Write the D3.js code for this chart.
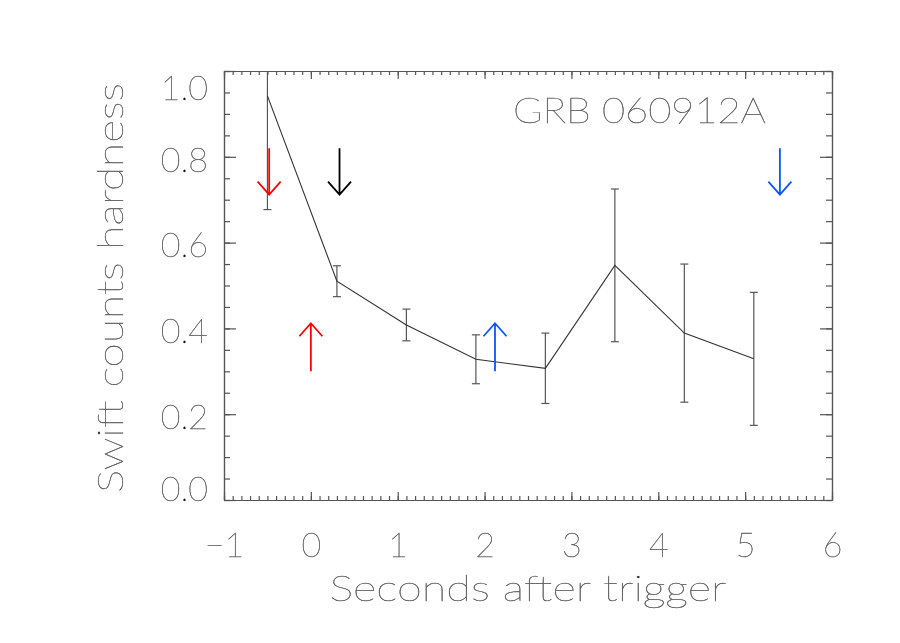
<!DOCTYPE html>
<html>
<head>
<meta charset="utf-8">
<script src="https://cdn.jsdelivr.net/npm/d3@7"></script>
<style>
  html, body { margin: 0; padding: 0; background: #fff; }
  svg { will-change: transform; }
  svg text { font-family: "Lato", "DejaVu Sans", sans-serif; font-weight: 100; fill: #000; stroke: #666; stroke-width: 0.35; }
</style>
</head>
<body>
<div id="chart"></div>
<script>
// ---- data ----
const times = [-0.5, 0.3, 1.1, 1.9, 2.7, 3.5, 4.3, 5.1];
const hardness = [0.942, 0.51, 0.408, 0.328, 0.307, 0.547, 0.389, 0.329];
const hardnessErr = [0.265, 0.036, 0.037, 0.057, 0.082, 0.178, 0.161, 0.155];
const arrowX = [-0.48, 0.33, 0.0, 2.12, 5.4];
const arrowFrom = [0.82, 0.82, 0.30, 0.30, 0.82];
const arrowTo = [0.712, 0.712, 0.412, 0.412, 0.712];
const arrowColors = ["#ff0000", "#000000", "#ff0000", "#0a55ff", "#0a55ff"];
const xTickValues = [-1, 0, 1, 2, 3, 4, 5, 6];
const xTickLabels = ["\u22121", "0", "1", "2", "3", "4", "5", "6"];
const yTickValues = [0, 0.2, 0.4, 0.6, 0.8, 1.0];
const yTickLabels = ["0.0", "0.2", "0.4", "0.6", "0.8", "1.0"];
const xTitle = "Seconds after trigger";
const yTitle = "Swift counts hardness";
const plotTitle = "GRB 060912A";

// ---- layout ----
const W = 900, H = 643;
const L = 224, R = 832, T = 71, B = 500;

const svg = d3.select("#chart").append("svg").attr("width", W).attr("height", H);

const x = d3.scaleLinear().domain([-1, 6]).range([L, R]);
const y = d3.scaleLinear().domain([0, 1.0]).range([B, T]);

const axisColor = "#555";

// minor ticks
const xMinor = d3.range(-10, 61).map(d => d / 10);
const yMinor = d3.range(0, 21).map(d => d / 20);

function styleAxis(g) {
  g.select(".domain").attr("stroke", axisColor).attr("stroke-width", 1.2);
  g.selectAll(".tick line").attr("stroke", axisColor).attr("stroke-width", 1.2);
}

// bottom axis (ticks inward)
const gxB = svg.append("g").attr("transform", `translate(0,${B})`);
gxB.call(d3.axisBottom(x).tickValues(xMinor).tickSize(-4).tickFormat("").tickSizeOuter(0));
styleAxis(gxB);
const gxBM = svg.append("g").attr("transform", `translate(0,${B})`);
gxBM.call(d3.axisBottom(x).tickValues(xTickValues).tickSize(-8).tickSizeOuter(0)
  .tickFormat((d, i) => xTickLabels[i]));
styleAxis(gxBM);
gxBM.selectAll(".tick text").attr("y", 0).attr("dy", "57px")
  .attr("font-size", 34).attr("fill", null).style("font-family", null);

// top axis
const gxT = svg.append("g").attr("transform", `translate(0,${T})`);
gxT.call(d3.axisTop(x).tickValues(xMinor).tickSize(-4).tickFormat("").tickSizeOuter(0));
styleAxis(gxT);
const gxTM = svg.append("g").attr("transform", `translate(0,${T})`);
gxTM.call(d3.axisTop(x).tickValues(xTickValues).tickSize(-8).tickFormat("").tickSizeOuter(0));
styleAxis(gxTM);

// left axis
const gyL = svg.append("g").attr("transform", `translate(${L},0)`);
gyL.call(d3.axisLeft(y).tickValues(yMinor).tickSize(-6).tickFormat("").tickSizeOuter(0));
styleAxis(gyL);
const gyLM = svg.append("g").attr("transform", `translate(${L},0)`);
gyLM.call(d3.axisLeft(y).tickValues(yTickValues).tickSize(-12).tickSizeOuter(0)
  .tickFormat((d, i) => yTickLabels[i]));
styleAxis(gyLM);
gyLM.selectAll(".tick text").attr("x", -16).attr("dy", "0.42em")
  .attr("font-size", 34).attr("fill", null).style("font-family", null);
gyLM.selectAll(".tick text").filter(d => d === 0).attr("dy", "0.0em");
gyLM.selectAll(".tick text").filter(d => d === 1.0).attr("dy", "0.84em");

// right axis
const gyR = svg.append("g").attr("transform", `translate(${R},0)`);
gyR.call(d3.axisRight(y).tickValues(yMinor).tickSize(-6).tickFormat("").tickSizeOuter(0));
styleAxis(gyR);
const gyRM = svg.append("g").attr("transform", `translate(${R},0)`);
gyRM.call(d3.axisRight(y).tickValues(yTickValues).tickSize(-12).tickFormat("").tickSizeOuter(0));
styleAxis(gyRM);

// clip for data
svg.append("clipPath").attr("id", "plotclip").append("rect")
  .attr("x", L).attr("y", T).attr("width", R - L).attr("height", B - T);
const plot = svg.append("g").attr("clip-path", "url(#plotclip)");

const pts = times.map((t, i) => ({ t, h: hardness[i], e: hardnessErr[i] }));

// error bars
const eb = plot.append("g").attr("stroke", "#555").attr("stroke-width", 1.2).attr("fill", "none");
pts.forEach(p => {
  eb.append("line").attr("x1", x(p.t)).attr("x2", x(p.t))
    .attr("y1", y(p.h - p.e)).attr("y2", y(p.h + p.e));
  [p.h - p.e, p.h + p.e].forEach(v => {
    eb.append("line").attr("x1", x(p.t) - 4).attr("x2", x(p.t) + 4)
      .attr("y1", y(v)).attr("y2", y(v));
  });
});

// line
plot.append("path").datum(pts)
  .attr("d", d3.line().x(d => x(d.t)).y(d => y(d.h)))
  .attr("fill", "none").attr("stroke", "#333").attr("stroke-width", 1.1);

// arrows
const ag = svg.append("g").attr("fill", "none").attr("stroke-width", 1.8);
arrowX.forEach((ax, i) => {
  const x0 = x(ax), y0 = y(arrowFrom[i]), y1 = y(arrowTo[i]);
  const dir = y1 > y0 ? -1 : 1; // head opens back toward the tail
  const hw = 11.5, hl = 13;
  ag.append("path")
    .attr("d", `M${x0},${y0}L${x0},${y1}M${x0 - hw},${y1 + dir * hl}L${x0},${y1}L${x0 + hw},${y1 + dir * hl}`)
    .attr("stroke", arrowColors[i]);
});

// titles
svg.append("text").attr("x", (L + R) / 2 + 0).attr("y", 601)
  .attr("text-anchor", "middle").attr("font-size", 36)
  .attr("textLength", 397).attr("lengthAdjust", "spacingAndGlyphs")
  .text(xTitle);

svg.append("text").attr("transform", `translate(123,${288}) rotate(-90)`)
  .attr("text-anchor", "middle").attr("font-size", 36)
  .attr("textLength", 410).attr("lengthAdjust", "spacingAndGlyphs")
  .text(yTitle);

svg.append("text").attr("x", 513).attr("y", 123)
  .attr("font-size", 36)
  .attr("textLength", 253).attr("lengthAdjust", "spacingAndGlyphs")
  .text(plotTitle);
</script>
</body>
</html>
